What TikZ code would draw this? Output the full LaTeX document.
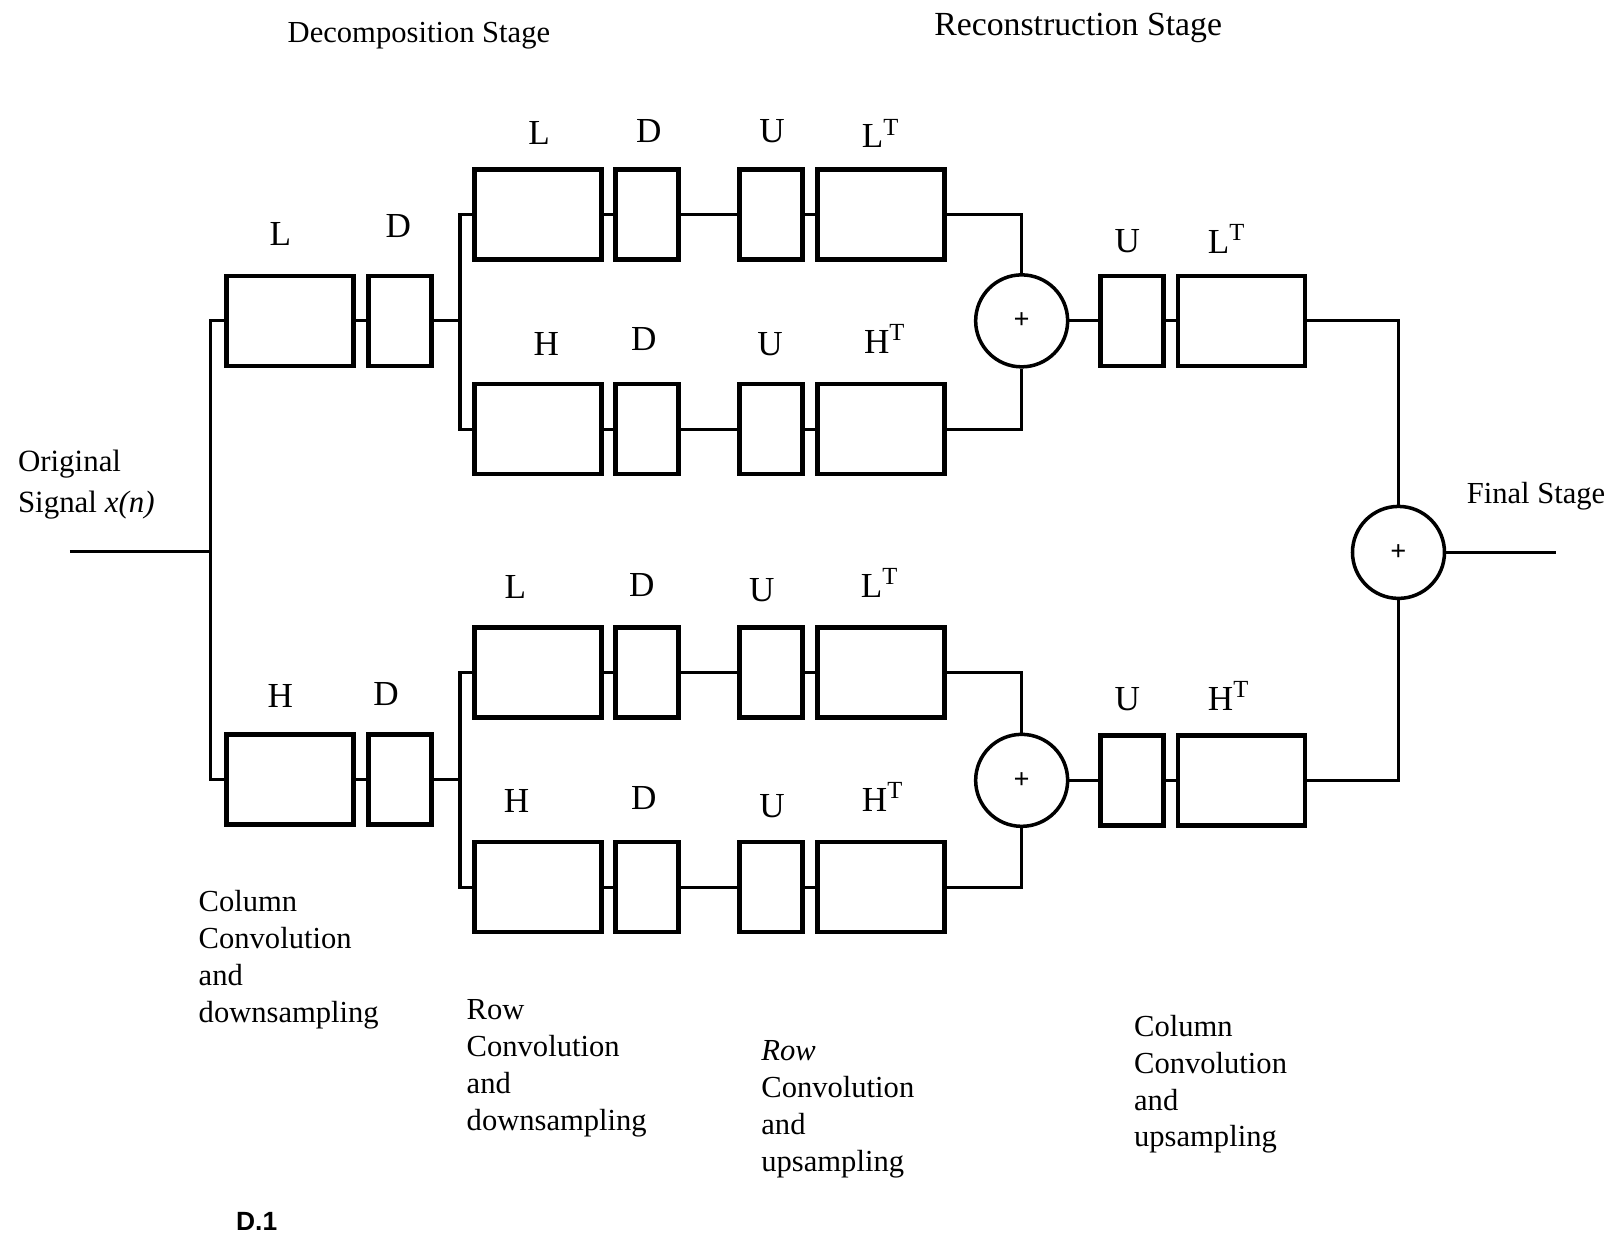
\documentclass[tikz,border=0pt]{standalone}
\usepackage{fontspec}
\setmainfont{Liberation Serif}
\setsansfont{Liberation Sans}
\tikzset{
  every picture/.style={line width=0.9pt},
  box/.style={draw, line width=1.3pt, minimum height=0.9cm, inner sep=0pt},
  wide/.style={box, minimum width=1.27cm},
  narrow/.style={box, minimum width=0.63cm},
  summer/.style={draw, circle, line width=1pt, minimum size=0.92cm, inner sep=0pt, font=\bfseries\footnotesize},
  tag/.style={font=\fontsize{10}{12}\selectfont},
  title/.style={font=\fontsize{8.7}{11}\selectfont},
  caption/.style={font=\fontsize{8.7}{10.5}\selectfont, align=left, anchor=north west, inner sep=0pt},
}

\begin{document}
\begin{tikzpicture}[x=0.010268cm, y=-0.010268cm]
  \useasboundingbox (0,0) rectangle (1568,1204);
  % column convolution and downsampling
  \node[wide] (cL) at (282.5,312.5) {};
  \node[narrow] (cLd) at (389.5,312.5) {};
  \node[wide] (cH) at (282.5,759) {};
  \node[narrow] (cHd) at (389.5,759) {};
  \draw (cL) -- (cLd); \draw (cH) -- (cHd);
  \coordinate (in) at (68,537);
  \coordinate (split) at (205,537);
  \draw (in) -- (split);
  \draw (cL.west) -| (split) |- (cH.west);
  % row convolution, down- and upsampling
  \foreach \r/\y in {a/209,b/418,c/655,d/864} {
    \node[wide] (f\r) at (524,\y) {};
    \node[narrow] (d\r) at (630,\y) {};
    \node[narrow] (u\r) at (751,\y) {};
    \node[wide] (t\r) at (858,\y) {};
    \draw (f\r) -- (d\r) -- (u\r) -- (t\r);
  }
  \coordinate (splitU) at (448,312.5);
  \coordinate (splitD) at (448,759);
  \draw (cLd) -- (splitU); \draw (fa.west) -| (splitU) |- (fb.west);
  \draw (cHd) -- (splitD); \draw (fc.west) -| (splitD) |- (fd.west);
  % adders
  \node[summer] (sa) at (995,312.5) {+};
  \node[summer] (sb) at (995,760) {+};
  \draw (ta.east) -| (sa.north); \draw (tb.east) -| (sa.south);
  \draw (tc.east) -| (sb.north); \draw (td.east) -| (sb.south);
  % column upsampling
  \node[narrow] (ra) at (1102.5,312.5) {};
  \node[wide] (rat) at (1209,312.5) {};
  \node[narrow] (rb) at (1102.5,760) {};
  \node[wide] (rbt) at (1209,760) {};
  \draw (sa) -- (ra) -- (rat); \draw (sb) -- (rb) -- (rbt);
  \node[summer] (fin) at (1362,538) {+};
  \draw (rat.east) -| (fin.north); \draw (rbt.east) -| (fin.south);
  \coordinate (out) at (1515,538);
  \draw (fin) -- (out);
  % box letters
  \foreach \t/\x/\y [count=\i] in {L/273/228, D/388/220, H/273/678, D/376/676,
      L/525/130, D/632/128, U/752/128, L\textsuperscript{T}/858/130,
      H/532/335, D/627/330, U/750/335, H\textsuperscript{T}/862/330,
      L/502/572, D/625/570, U/742/575, L\textsuperscript{T}/857/568,
      H/503/780, D/627/777, U/752/785, H\textsuperscript{T}/860/776,
      U/1098/235, L\textsuperscript{T}/1195/233, U/1098/681, H\textsuperscript{T}/1197/678} {
    \node[tag] (tag\i) at (\x,\y) {\t};
  }
  % stage titles and notes
  \node[title] (decomp) at (408,35) {Decomposition Stage};
  \node[title, font=\fontsize{9.6}{11}\selectfont] (recon) at (1050,27) {Reconstruction Stage};
  \node[caption, anchor=west, font=\fontsize{8.8}{11.4}\selectfont] (src) at (16,472) {Original\\Signal \textit{x(n)}};
  \node[title] (final) at (1496,483) {Final Stage};
  \node[caption] (colD) at (192,866) {Column\\Convolution\\and\\downsampling};
  \node[caption] (rowD) at (453,972) {Row\\Convolution\\and\\downsampling};
  \node[caption] (rowU) at (740,1012) {\textit{Row}\\Convolution\\and\\upsampling};
  \node[caption] (colU) at (1103,987) {Column\\Convolution\\and\\upsampling};
  \node[font=\sffamily\bfseries\fontsize{7.5}{9}\selectfont] (fig) at (250,1190) {D.1};
\end{tikzpicture}
\end{document}
